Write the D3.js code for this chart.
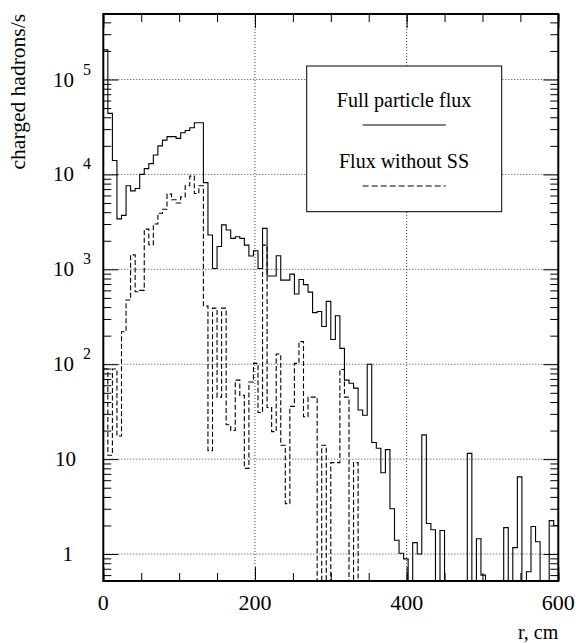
<!DOCTYPE html>
<html>
<head>
<meta charset="utf-8">
<script src="https://cdn.jsdelivr.net/npm/d3@7"></script>
<style>
  body { margin: 0; background: #fff; }
  text { font-family: "Liberation Serif", "Times New Roman", serif; fill: #000; }
</style>
</head>
<body>
<script>
// histogram binning: 100 bins of 6 cm from 0 to 600
var binWidth = 6;
var nBins = 100;

// full particle flux (charged hadrons/s per bin), 0 = empty bin
var fullFlux = [
  2.05e5, 4.4e4, 1.4e4, 3400, 3700, 7600, 6700, 7100, 1.0e4, 1.15e4,
  1.3e4, 1.6e4, 2.0e4, 2.3e4, 2.5e4, 2.5e4, 2.4e4, 2.75e4, 2.9e4, 3.1e4,
  3.5e4, 3.5e4, 8200, 2300, 1020, 1740, 2940, 2600, 2120, 2200,
  2120, 1800, 1380, 1570, 1020, 2700, 850, 850, 1390, 770,
  770, 890, 550, 780, 690, 575, 350, 360, 250, 460,
  182, 324, 147, 68, 63, 56, 33, 29, 100, 15,
  13, 7.2, 12.6, 3.0, 1.4, 1.02, 0.89, 0, 1.32, 1.0,
  18, 2.1, 1.8, 0, 1.77, 0, 0, 0, 0, 0,
  11.5, 0, 1.45, 0.6, 0, 0, 0, 0, 1.9, 0,
  1.17, 6.5, 0, 0.65, 1.95, 1.35, 0, 0, 2.25, 2.0
];

// flux without SS
var noSSFlux = [
  89, 11, 89, 17.5, 220, 475, 1420, 580, 600, 2650,
  1820, 3000, 3900, 4300, 6200, 5400, 5000, 5800, 7600, 9600,
  6300, 7600, 410, 12.3, 390, 45, 390, 23, 20, 68,
  47, 8.0, 65, 102, 31, 1800, 35, 19.5, 128, 14,
  3.4, 36, 102, 173, 28, 45, 45, 0, 14, 0,
  9.2, 9.2, 88, 45, 0, 9.2, 0, 0, 0, 0,
  0, 0, 0, 0, 0, 0, 0, 0, 0, 0,
  0, 0, 0, 0, 0, 0, 0, 0, 0, 0,
  0, 0, 0, 0, 0, 0, 0, 0, 0, 0,
  0, 0, 0, 0, 0, 0, 0, 0, 0, 0
];

var xMajor = [0, 200, 400, 600];
var xGrid = [200, 400];
var yDecades = [1, 10, 100, 1000, 10000, 100000];
var yLabels = [
  {v: 1, base: "1", exp: ""},
  {v: 10, base: "10", exp: ""},
  {v: 100, base: "10", exp: "2"},
  {v: 1000, base: "10", exp: "3"},
  {v: 10000, base: "10", exp: "4"},
  {v: 100000, base: "10", exp: "5"}
];
var legendItems = [
  {label: "Full particle flux", dash: null},
  {label: "Flux without SS", dash: "6,3"}
];

var W = 576, H = 643;
var plotL = 103.3, plotR = 558.3, plotT = 14, plotB = 581;
var yMin = 0.52, yMax = 4.9e5;

var svg = d3.select("body").append("svg")
  .attr("width", W).attr("height", H);

var x = d3.scaleLinear().domain([0, 600]).range([plotL, plotR]);
var y = d3.scaleLog().domain([yMin, yMax]).range([plotB, plotT]);

svg.append("clipPath").attr("id", "plot")
  .append("rect").attr("x", plotL).attr("y", plotT)
  .attr("width", plotR - plotL).attr("height", plotB - plotT);

// grid
var grid = svg.append("g")
  .attr("stroke", "#444").attr("stroke-width", 1)
  .attr("stroke-dasharray", "1,2");
grid.selectAll("line.h").data(yDecades).enter().append("line")
  .attr("x1", plotL).attr("x2", plotR)
  .attr("y1", function (d) { return y(d); })
  .attr("y2", function (d) { return y(d); });
grid.selectAll("line.v").data(xGrid).enter().append("line")
  .attr("y1", plotT).attr("y2", plotB)
  .attr("x1", function (d) { return x(d); })
  .attr("x2", function (d) { return x(d); });

// histogram outlines
function histPoints(vals) {
  var pts = [];
  vals.forEach(function (v, i) {
    var yy = y(Math.max(v, yMin));
    pts.push([x(i * binWidth), yy]);
    pts.push([x((i + 1) * binWidth), yy]);
  });
  return pts;
}
var line = d3.line();
var hist = svg.append("g").attr("clip-path", "url(#plot)")
  .attr("fill", "none").attr("stroke", "#000").attr("stroke-width", 1.1);
hist.append("path").attr("d", line(histPoints(noSSFlux)))
  .attr("stroke-dasharray", "5,2.5");
hist.append("path").attr("d", line(histPoints(fullFlux)));

// axes (ticks pointing inward)
var xMinor = d3.range(0, 601, 50);
var yMinor = [];
[0.1, 1, 10, 100, 1000, 10000, 100000].forEach(function (dec) {
  for (var k = 2; k <= 9; k++) {
    var v = dec * k;
    if (v > yMin && v < yMax) yMinor.push(v);
  }
});

function noLabels(a) { return a.tickFormat(function () { return ""; }).tickSizeOuter(0); }

svg.append("g").attr("transform", "translate(0," + plotB + ")")
  .call(noLabels(d3.axisBottom(x).tickValues(xMinor).tickSize(-8)));
svg.append("g").attr("transform", "translate(0," + plotB + ")")
  .call(noLabels(d3.axisBottom(x).tickValues(xMajor).tickSize(-14)));
svg.append("g").attr("transform", "translate(0," + plotT + ")")
  .call(noLabels(d3.axisTop(x).tickValues(xMinor).tickSize(-8)));
svg.append("g").attr("transform", "translate(0," + plotT + ")")
  .call(noLabels(d3.axisTop(x).tickValues(xMajor).tickSize(-14)));
svg.append("g").attr("transform", "translate(" + plotL + ",0)")
  .call(noLabels(d3.axisLeft(y).tickValues(yMinor).tickSize(-8)));
svg.append("g").attr("transform", "translate(" + plotL + ",0)")
  .call(noLabels(d3.axisLeft(y).tickValues(yDecades).tickSize(-15)));
svg.append("g").attr("transform", "translate(" + plotR + ",0)")
  .call(noLabels(d3.axisRight(y).tickValues(yMinor).tickSize(-8)));
svg.append("g").attr("transform", "translate(" + plotR + ",0)")
  .call(noLabels(d3.axisRight(y).tickValues(yDecades).tickSize(-15)));
svg.selectAll(".domain").remove();
svg.selectAll(".tick line").attr("stroke", "#000").attr("stroke-width", 1);

// frame
svg.append("rect").attr("x", plotL).attr("y", plotT)
  .attr("width", plotR - plotL).attr("height", plotB - plotT)
  .attr("fill", "none").attr("stroke", "#000").attr("stroke-width", 2);

// x tick labels
svg.selectAll("text.xl").data(xMajor).enter().append("text")
  .attr("x", function (d) { return x(d); })
  .attr("y", 610)
  .attr("text-anchor", "middle")
  .style("font-size", "22px")
  .text(function (d) { return d; });

// y tick labels
yLabels.forEach(function (l) {
  var t = svg.append("text")
    .attr("y", y(l.v) + 7)
    .style("font-size", "21px");
  if (l.exp) {
    t.attr("x", 74).attr("text-anchor", "end").text(l.base);
    svg.append("text").attr("x", 83).attr("y", y(l.v) - 5)
      .style("font-size", "16px").text(l.exp);
  } else {
    t.attr("x", l.v === 1 ? 73 : 76).attr("text-anchor", "end").text(l.base);
  }
});

// axis titles
svg.append("text")
  .attr("transform", "translate(25," + plotT + ") rotate(-90)")
  .attr("text-anchor", "end")
  .style("font-size", "21.5px")
  .text("charged hadrons/s");
svg.append("text")
  .attr("x", plotR).attr("y", 639)
  .attr("text-anchor", "end")
  .style("font-size", "20px")
  .text("r, cm");

// legend
var lg = svg.append("g");
lg.append("rect").attr("x", 306.7).attr("y", 66)
  .attr("width", 195).attr("height", 145.7)
  .attr("fill", "#fff").attr("stroke", "#000").attr("stroke-width", 1);
legendItems.forEach(function (it, i) {
  var cy = 107 + i * 61;
  lg.append("text").attr("x", 404).attr("y", cy)
    .attr("text-anchor", "middle").style("font-size", "20px")
    .text(it.label);
  lg.append("line").attr("x1", 362.7).attr("x2", 445.7)
    .attr("y1", cy + 18).attr("y2", cy + 18)
    .attr("stroke", "#000").attr("stroke-width", 1.1)
    .attr("stroke-dasharray", it.dash);
});
</script>
</body>
</html>
